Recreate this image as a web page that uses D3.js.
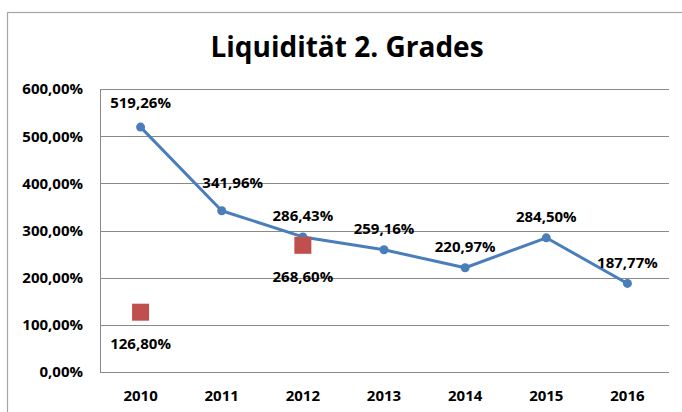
<!DOCTYPE html>
<html>
<head>
<meta charset="utf-8">
<script src="https://cdn.jsdelivr.net/npm/d3@7"></script>
<style>
  body { margin: 0; background: #fff; }
  text { font-family: "Open Sans", sans-serif; font-weight: bold; fill: #000; }
</style>
</head>
<body>
<svg id="chart" width="682" height="412"></svg>
<script>
// chart data
var years = ["2010", "2011", "2012", "2013", "2014", "2015", "2016"];
var liquidity = [519.26, 341.96, 286.43, 259.16, 220.97, 284.50, 187.77];
var comparison = [126.80, null, 268.60, null, null, null, null];
var yTicks = [0, 100, 200, 300, 400, 500, 600];
var title = "Liquidität 2. Grades";

var de = d3.formatLocale({ decimal: ",", thousands: ".", grouping: [3], currency: ["", " €"] });
var fmt = function (v) { return de.format(".2f")(v) + "%"; };

var svg = d3.select("#chart");
var plotLeft = 100, plotRight = 668, plotTop = 89, plotBottom = 372;

// outer chart border
svg.append("rect")
  .attr("x", 7.5).attr("y", 12.5)
  .attr("width", 700).attr("height", 420)
  .attr("fill", "#fff").attr("stroke", "#a6a6a6").attr("stroke-width", 1.2);

svg.append("text")
  .attr("x", 347).attr("y", 57)
  .attr("text-anchor", "middle")
  .style("font-size", "28px")
  .text(title);

var x = d3.scaleBand().domain(years).range([plotLeft, plotRight]).padding(0);
var y = d3.scaleLinear().domain([0, 600]).range([plotBottom, plotTop]);
var cx = function (d) { return x(d) + x.bandwidth() / 2; };

// gridlines
svg.append("g").selectAll("line")
  .data(yTicks).enter().append("line")
  .attr("x1", plotLeft).attr("x2", plotRight + 1)
  .attr("y1", function (d) { return Math.round(y(d)) + 0.5; })
  .attr("y2", function (d) { return Math.round(y(d)) + 0.5; })
  .attr("stroke", "#898989").attr("stroke-width", 1);

svg.append("line")
  .attr("x1", plotLeft + 0.5).attr("x2", plotLeft + 0.5)
  .attr("y1", plotTop).attr("y2", plotBottom)
  .attr("stroke", "#898989");

// y axis labels
svg.append("g").selectAll("text")
  .data(yTicks).enter().append("text")
  .attr("x", 83)
  .attr("y", function (d) { return y(d); })
  .attr("dy", "0.36em")
  .attr("text-anchor", "end")
  .style("font-size", "15px")
  .text(function (d) { return de.format(".2f")(d) + "%"; });

// x axis labels
svg.append("g").selectAll("text")
  .data(years).enter().append("text")
  .attr("x", cx)
  .attr("y", 396)
  .attr("dy", "0.36em")
  .attr("text-anchor", "middle")
  .style("font-size", "15px")
  .text(function (d) { return d; });

var points = years.map(function (yr, i) { return { year: yr, value: liquidity[i] }; });

var line = d3.line()
  .x(function (d) { return cx(d.year); })
  .y(function (d) { return y(d.value); });

svg.append("path")
  .datum(points)
  .attr("d", line)
  .attr("fill", "none")
  .attr("stroke", "#4a7ebb")
  .attr("stroke-width", 3)
  .attr("stroke-linejoin", "round");

svg.append("g").selectAll("circle")
  .data(points).enter().append("circle")
  .attr("cx", function (d) { return cx(d.year); })
  .attr("cy", function (d) { return y(d.value); })
  .attr("r", 4.5)
  .attr("fill", "#4a7ebb");

// label tweaks (Excel labels were moved by hand)
var labelNudge = { "2010": [0, -3], "2011": [11, -7] };

svg.append("g").selectAll("text")
  .data(points).enter().append("text")
  .attr("x", function (d) { return cx(d.year) + (labelNudge[d.year] ? labelNudge[d.year][0] : 0); })
  .attr("y", function (d) { return y(d.value) - 21 + (labelNudge[d.year] ? labelNudge[d.year][1] : 0); })
  .attr("dy", "0.36em")
  .attr("text-anchor", "middle")
  .style("font-size", "15px")
  .text(function (d) { return fmt(d.value); });

// second series: squares
var comp = years.map(function (yr, i) { return { year: yr, value: comparison[i] }; })
  .filter(function (d) { return d.value != null; });

svg.append("g").selectAll("rect")
  .data(comp).enter().append("rect")
  .attr("x", function (d) { return cx(d.year) - 8.5; })
  .attr("y", function (d) { return y(d.value) - 8.5; })
  .attr("width", 17).attr("height", 17)
  .attr("fill", "#c0504d");

svg.append("g").selectAll("text")
  .data(comp).enter().append("text")
  .attr("x", function (d) { return cx(d.year); })
  .attr("y", function (d) { return y(d.value) + 31; })
  .attr("dy", "0.36em")
  .attr("text-anchor", "middle")
  .style("font-size", "15px")
  .text(function (d) { return fmt(d.value); });
</script>
</body>
</html>
